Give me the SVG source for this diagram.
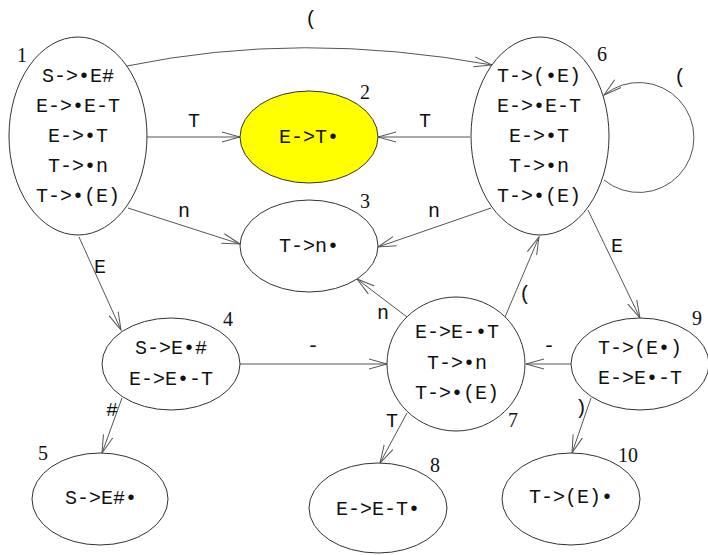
<svg xmlns="http://www.w3.org/2000/svg" width="708" height="555" viewBox="0 0 708 555">
<style>
.n{fill:#fff;stroke:#333;stroke-width:1}
.t{font-family:"Liberation Mono","DejaVu Sans Mono",monospace;font-size:20px;fill:#111;text-anchor:middle}
.num{font-family:"Liberation Serif","Times New Roman",serif;font-size:20px;fill:#111;text-anchor:middle}
.e{fill:none;stroke:#555;stroke-width:1;marker-end:url(#ah)}
.l{font-family:"Liberation Mono","DejaVu Sans Mono",monospace;font-size:20px;fill:#111;text-anchor:middle}
</style>
<defs>
<marker id="ah" markerUnits="userSpaceOnUse" markerWidth="20" markerHeight="14" refX="18" refY="6" orient="auto" viewBox="0 0 20 12">
<path d="M0,1 L18,6 L0,11" fill="none" stroke="#555" stroke-width="1"/>
</marker>
</defs>
<rect width="708" height="555" fill="#fff"/>
<g id="edges">
<path class="e" d="M127,66 Q300,30 492,65"/>
<text class="l" x="311" y="25">(</text>
<line class="e" x1="147" y1="137" x2="240" y2="137"/>
<text class="l" x="194" y="127">T</text>
<line class="e" x1="128" y1="208" x2="240" y2="244"/>
<text class="l" x="184" y="217">n</text>
<line class="e" x1="79" y1="237" x2="121" y2="330"/>
<text class="l" x="100" y="273">E</text>
<line class="e" x1="470" y1="137" x2="378" y2="137"/>
<text class="l" x="425" y="127">T</text>
<line class="e" x1="491" y1="208" x2="378" y2="247"/>
<text class="l" x="434" y="217">n</text>
<path class="e" d="M604,180 A55,55 0 1 0 604,95"/>
<text class="l" x="680" y="83">(</text>
<line class="e" x1="588" y1="210" x2="640" y2="318"/>
<text class="l" x="617" y="252">E</text>
<line class="e" x1="505" y1="317" x2="539" y2="237"/>
<text class="l" x="525" y="300">(</text>
<line class="e" x1="407" y1="317" x2="357" y2="279"/>
<text class="l" x="383" y="319">n</text>
<line class="e" x1="407" y1="413" x2="380" y2="463"/>
<text class="l" x="392" y="427">T</text>
<line class="e" x1="240" y1="364" x2="387" y2="364"/>
<text class="l" x="313" y="352">-</text>
<line class="e" x1="122" y1="398" x2="102" y2="453"/>
<text class="l" x="112" y="416">#</text>
<line class="e" x1="571" y1="364" x2="526" y2="364"/>
<text class="l" x="549" y="352">-</text>
<line class="e" x1="591" y1="398" x2="572" y2="453"/>
<text class="l" x="581" y="414">)</text>
</g>
<g id="node1">
<ellipse class="n" cx="78" cy="136" rx="69" ry="99"/>
<text class="t" x="78" y="82">S-&gt;•E#</text>
<text class="t" x="78" y="112">E-&gt;•E-T</text>
<text class="t" x="78" y="142">E-&gt;•T</text>
<text class="t" x="78" y="172">T-&gt;•n</text>
<text class="t" x="78" y="202">T-&gt;•(E)</text>
<text class="num" x="22" y="62">1</text>
</g>
<g id="node2">
<ellipse cx="309" cy="137" rx="69" ry="46" fill="#ffff00" stroke="#333" stroke-width="1"/>
<text class="t" x="309" y="143">E-&gt;T•</text>
<text class="num" x="365" y="99">2</text>
</g>
<g id="node3">
<ellipse class="n" cx="309" cy="246" rx="69" ry="46"/>
<text class="t" x="309" y="252">T-&gt;n•</text>
<text class="num" x="365" y="208">3</text>
</g>
<g id="node4">
<ellipse class="n" cx="171" cy="364" rx="69" ry="46"/>
<text class="t" x="171" y="354">S-&gt;E•#</text>
<text class="t" x="171" y="385">E-&gt;E•-T</text>
<text class="num" x="228" y="326">4</text>
</g>
<g id="node5">
<ellipse class="n" cx="100" cy="499" rx="68" ry="46"/>
<text class="t" x="101" y="504">S-&gt;E#•</text>
<text class="num" x="43" y="460">5</text>
</g>
<g id="node6">
<ellipse class="n" cx="540" cy="136" rx="69" ry="99"/>
<text class="t" x="539" y="82">T-&gt;(•E)</text>
<text class="t" x="539" y="112">E-&gt;•E-T</text>
<text class="t" x="539" y="142">E-&gt;•T</text>
<text class="t" x="539" y="172">T-&gt;•n</text>
<text class="t" x="539" y="202">T-&gt;•(E)</text>
<text class="num" x="602" y="61">6</text>
</g>
<g id="node7">
<ellipse class="n" cx="456" cy="364" rx="69" ry="67"/>
<text class="t" x="457" y="338">E-&gt;E-•T</text>
<text class="t" x="457" y="369">T-&gt;•n</text>
<text class="t" x="457" y="399">T-&gt;•(E)</text>
<text class="num" x="513" y="427">7</text>
</g>
<g id="node8">
<ellipse class="n" cx="378" cy="508" rx="69" ry="45"/>
<text class="t" x="378" y="515">E-&gt;E-T•</text>
<text class="num" x="435" y="472">8</text>
</g>
<g id="node9">
<ellipse class="n" cx="640" cy="364" rx="69" ry="46"/>
<text class="t" x="640" y="354">T-&gt;(E•)</text>
<text class="t" x="640" y="384">E-&gt;E•-T</text>
<text class="num" x="697" y="325">9</text>
</g>
<g id="node10">
<ellipse class="n" cx="571" cy="499" rx="69" ry="46"/>
<text class="t" x="571" y="503">T-&gt;(E)•</text>
<text class="num" x="628" y="462">10</text>
</g>
</svg>
